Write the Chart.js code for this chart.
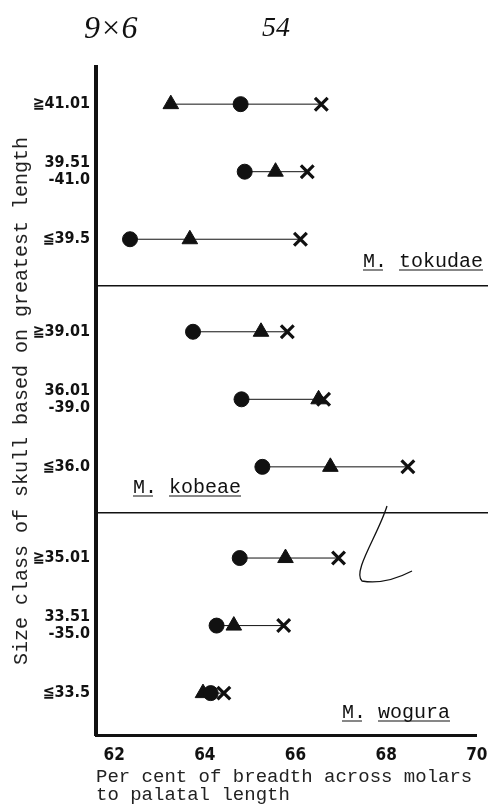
<!DOCTYPE html>
<html>
<head>
<meta charset="utf-8">
<script src="https://cdn.jsdelivr.net/npm/chart.js@4.4.0/dist/chart.umd.min.js"></script>
<style>
  body { margin: 0; background: #fff; }
  canvas { display: block; }
</style>
</head>
<body>
<canvas id="myChart" width="489" height="810"></canvas>
<script>
// size classes, top to bottom
const rows = ['≧41.01', ['39.51', '-41.0'], '≦39.5', '≧39.01', ['36.01', '-39.0'], '≦36.0', '≧35.01', ['33.51', '-35.0'], '≦33.5'];
const rowPos = [9.72, 8.72, 7.72, 6.35, 5.35, 4.35, 3, 2, 1];
const circleVals = [64.79, 64.88, 62.35, 63.74, 64.81, 65.27, 64.77, 64.26, 64.13];
const triangleVals = [63.25, 65.56, 63.67, 65.24, 66.51, 66.77, 65.78, 64.64, 63.96];
const crossVals = [66.57, 66.26, 66.11, 65.82, 66.62, 68.48, 66.95, 65.74, 64.42];
const xTicks = [62, 64, 66, 68, 70];
const separators = [7.03, 3.67];
const groups = ['M. tokudae', 'M. kobeae', 'M. wogura'];

const mono = "'Liberation Mono', 'DejaVu Sans Mono', monospace";
const narrow = "'Liberation Sans Narrow', 'DejaVu Sans Condensed', sans-serif";
const ink = '#111';

const lineSets = rows.map((r, i) => {
  const xs = [circleVals[i], triangleVals[i], crossVals[i]].sort((a, b) => a - b);
  return {
    type: 'line',
    data: xs.map(x => ({ x: x, y: rowPos[i] })),
    borderColor: ink,
    borderWidth: 1,
    pointRadius: 0,
    fill: false,
    order: 5
  };
});

function marks(vals, style, radius, bw) {
  return {
    type: 'scatter',
    data: vals.map((x, i) => ({ x: x, y: rowPos[i] })),
    pointStyle: style,
    pointRadius: radius,
    pointBackgroundColor: ink,
    pointBorderColor: ink,
    pointBorderWidth: bw,
    order: 1
  };
}

const extras = {
  id: 'extras',
  afterDraw(chart) {
    const c = chart.ctx;
    const y = chart.scales.y;
    const area = chart.chartArea;
    c.save();
    c.strokeStyle = ink;
    c.fillStyle = ink;
    c.lineWidth = 1.5;
    separators.forEach(v => {
      const py = y.getPixelForValue(v);
      c.beginPath();
      c.moveTo(area.left, py);
      c.lineTo(chart.width - 1, py);
      c.stroke();
    });

    // species names, underlined
    c.font = '20px ' + mono;
    c.textBaseline = 'alphabetic';
    const spots = [[483, 267, 'right'], [133, 493, 'left'], [450, 718, 'right']];
    groups.forEach((g, i) => {
      const [px, py, al] = spots[i];
      const w = c.measureText(g).width;
      const x0 = al === 'right' ? px - w : px;
      c.textAlign = 'left';
      c.fillText(g, x0, py);
      const parts = g.split(' ');
      const wM = c.measureText(parts[0]).width;
      const wSp = c.measureText(parts[0] + ' ').width;
      c.lineWidth = 1.2;
      c.beginPath();
      c.moveTo(x0, py + 3); c.lineTo(x0 + wM - 4, py + 3);
      c.moveTo(x0 + wSp, py + 3); c.lineTo(x0 + w, py + 3);
      c.stroke();
    });

    // handwritten notes
    c.font = 'italic 32px ' + "'Liberation Serif', serif";
    c.fillText('9×6', 84, 38);
    c.font = 'italic 28px ' + "'Liberation Serif', serif";
    c.fillText('54', 262, 36);

    c.lineWidth = 1.3;
    c.beginPath();
    c.moveTo(387, 506);
    c.bezierCurveTo(378, 535, 352, 572, 362, 581);
    c.quadraticCurveTo(385, 585, 412, 571);
    c.stroke();
    c.restore();
  }
};

const myChart = new Chart(document.getElementById('myChart').getContext('2d'), {
  data: {
    datasets: [
      ...lineSets,
      marks(circleVals, 'circle', 7.5, 1),
      marks(triangleVals, 'triangle', 9, 1),
      marks(crossVals, 'crossRot', 9, 3.2)
    ]
  },
  options: {
    responsive: false,
    animation: false,
    events: [],
    layout: { padding: { top: 67, right: 10, bottom: 0, left: 0 } },
    plugins: { legend: { display: false }, tooltip: { enabled: false } },
    scales: {
      x: {
        type: 'linear',
        position: 'bottom',
        min: 61.6,
        max: 70,
        afterBuildTicks: axis => { axis.ticks = xTicks.map(v => ({ value: v })); },
        afterFit: axis => {
          axis.height = 75;
          axis.paddingLeft = 0;
          axis.paddingRight = 0;
        },
        grid: { display: false, drawTicks: false },
        border: { display: true, color: ink, width: 3 },
        ticks: {
          color: ink,
          padding: 10,
          maxRotation: 0,
          font: { family: narrow, size: 17, weight: 'bold' }
        },
        title: {
          display: true,
          align: 'start',
          text: ['Per cent of breadth across molars', 'to palatal length'],
          color: '#222',
          font: { family: mono, size: 19, lineHeight: '18px' },
          padding: { top: 0, bottom: 6 }
        }
      },
      y: {
        type: 'linear',
        min: 0.38,
        max: 10.27,
        afterBuildTicks: axis => { axis.ticks = rowPos.map(v => ({ value: v })); },
        afterFit: axis => { axis.width = 96; },
        grid: { display: false, drawTicks: false },
        border: { display: true, color: ink, width: 4 },
        ticks: {
          color: ink,
          padding: 6,
          font: { family: narrow, size: 16, weight: 'bold', lineHeight: '17px' },
          callback: function(value) {
            const i = rowPos.findIndex(p => Math.abs(p - value) < 1e-6);
            return i < 0 ? '' : rows[i];
          }
        },
        title: {
          display: true,
          text: 'Size class of skull based on greatest length',
          color: '#222',
          font: { family: mono, size: 20, lineHeight: 1.2 },
          padding: { top: 10, bottom: 0 }
        }
      }
    }
  },
  plugins: [extras]
});
</script>
</body>
</html>
